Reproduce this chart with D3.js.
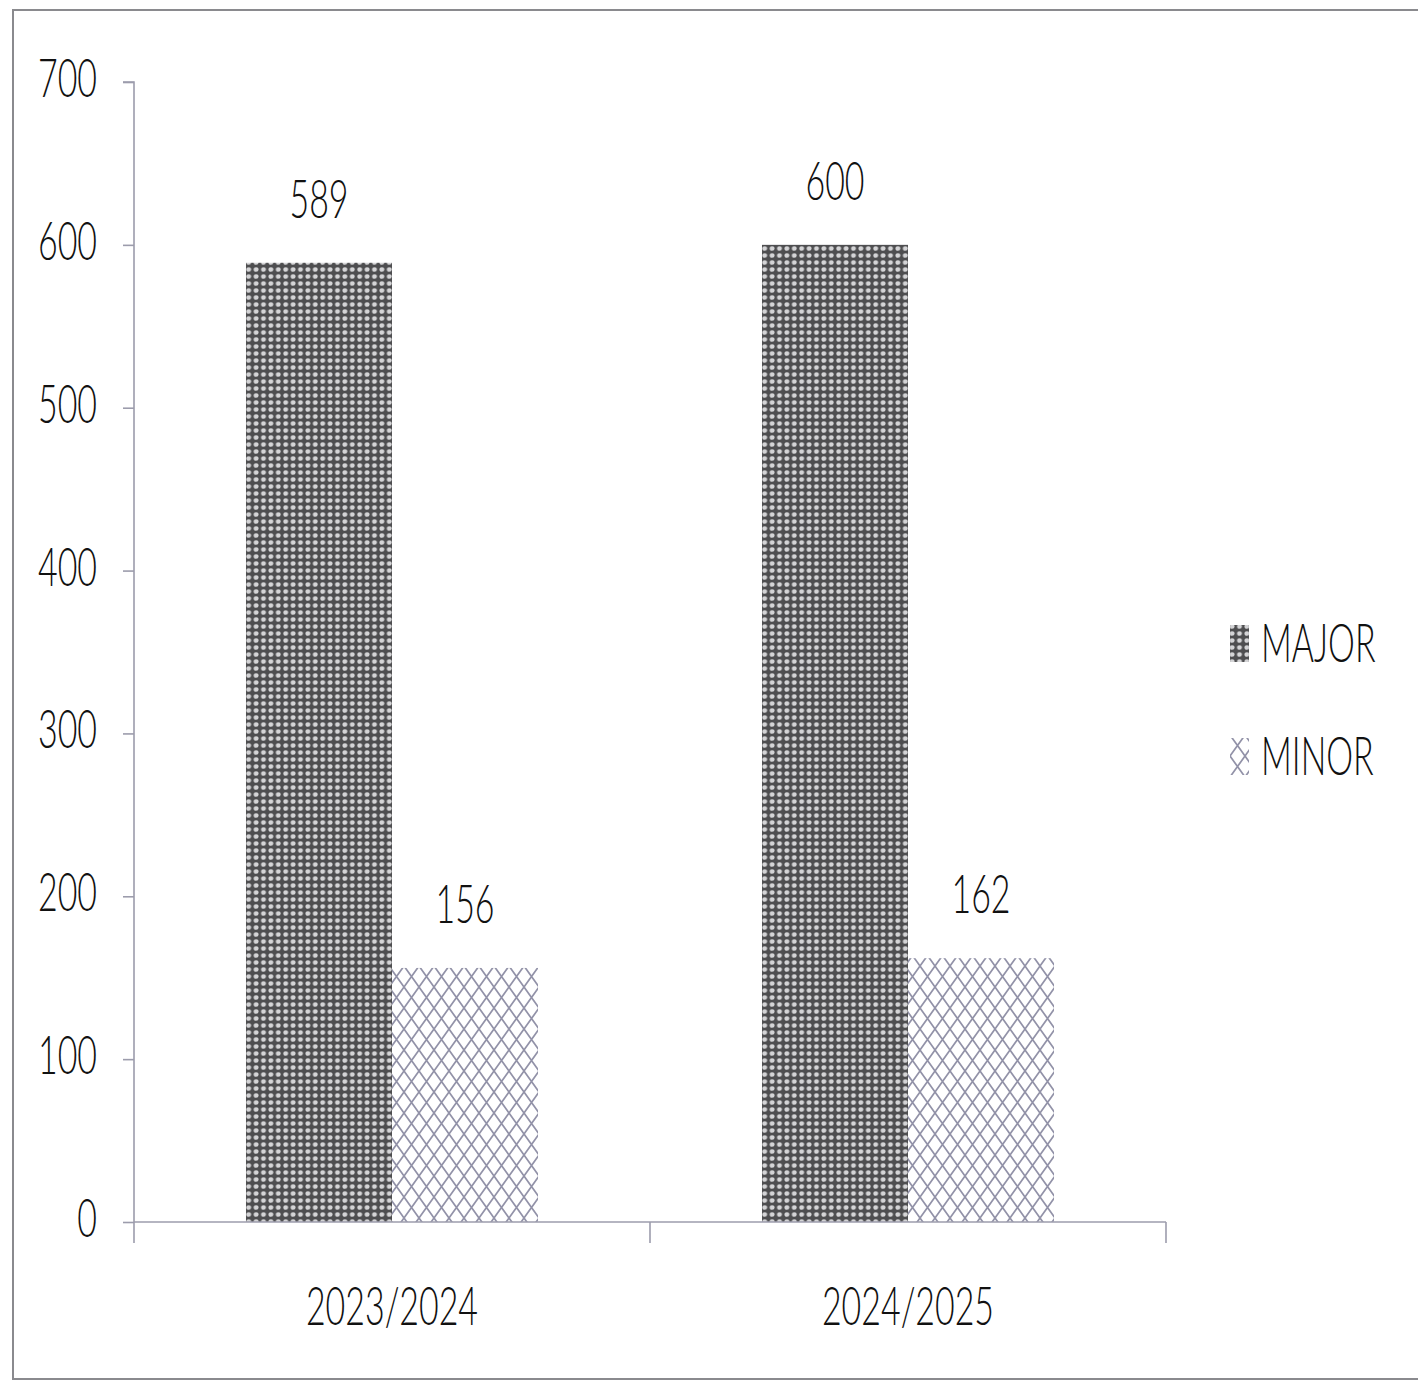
<!DOCTYPE html>
<html>
<head>
<meta charset="utf-8">
<script src="https://cdn.jsdelivr.net/npm/d3@7"></script>
<style>
  html, body { margin: 0; padding: 0; background: #fff; }
  svg { display: block; }
  text { font-family: Lato, "Open Sans", sans-serif; font-weight: 300; fill: #111; }
</style>
</head>
<body>
<svg id="chart" width="1418" height="1380"></svg>
<script>
// Data
const categories = ["2023/2024", "2024/2025"];
const series = ["MAJOR", "MINOR"];
const majorValues = [589, 600];
const minorValues = [156, 162];
const yTicks = [0, 100, 200, 300, 400, 500, 600, 700];

const valuesBySeries = { MAJOR: majorValues, MINOR: minorValues };
const rows = categories.map((c, i) => ({
  category: c,
  values: series.map(s => ({ series: s, value: valuesBySeries[s][i] }))
}));

const W = 1418, H = 1380;
const plot = { left: 134, right: 1166, top: 82, bottom: 1222 };
const SX = 0.64;          // condensed lettering
const FS = 53;

const svg = d3.select("#chart");
const defs = svg.append("defs");

// Dotted dark fill
const pMaj = defs.append("pattern")
  .attr("id", "pat-major").attr("patternUnits", "userSpaceOnUse")
  .attr("width", 7.4).attr("height", 7);
pMaj.append("rect").attr("width", 7.4).attr("height", 7).attr("fill", "#4e4e50");
pMaj.append("ellipse").attr("cx", 3.7).attr("cy", 3.5).attr("rx", 2.4).attr("ry", 2.3).attr("fill", "#d4d4d6");

// Diamond lattice fill
const dw = 15, dh = 21;
const pMin = defs.append("pattern")
  .attr("id", "pat-minor").attr("patternUnits", "userSpaceOnUse")
  .attr("width", dw).attr("height", dh);
pMin.append("rect").attr("width", dw).attr("height", dh).attr("fill", "#ffffff");
pMin.append("path")
  .attr("d",
    `M${-dw},${-dh}L${2 * dw},${2 * dh}` +
    `M${2 * dw},${-dh}L${-dw},${2 * dh}` +
    `M0,${-dh}L${2 * dw},${dh}` +
    `M${-dw},0L${dw},${2 * dh}` +
    `M${-dw},${dh}L${dw},${-dh}` +
    `M${2 * dw},0L0,${2 * dh}`)
  .attr("stroke", "#9292a8").attr("stroke-width", 1.7).attr("fill", "none");

const fills = { MAJOR: "url(#pat-major)", MINOR: "url(#pat-minor)" };

// Outer frame
svg.append("rect")
  .attr("x", 13).attr("y", 10).attr("width", W + 20).attr("height", 1369)
  .attr("fill", "none").attr("stroke", "#8a8a8e").attr("stroke-width", 2);

// Scales
const x0 = d3.scaleBand().domain(categories).range([plot.left, plot.right]).padding(0);
const x1 = d3.scaleBand().domain(series).range([0, x0.bandwidth()])
  .paddingInner(0).paddingOuter(0.767);
const y = d3.scaleLinear().domain([0, 700]).range([plot.bottom, plot.top]);

function label(g, x, yy, txt, anchor) {
  return g.append("text")
    .attr("transform", `translate(${x},${yy}) scale(${SX},1)`)
    .attr("text-anchor", anchor || "middle")
    .attr("font-size", FS)
    .text(txt);
}

// Y axis
const yAxis = svg.append("g").attr("transform", `translate(${plot.left},0)`)
  .call(d3.axisLeft(y).tickValues(yTicks).tickSize(11).tickFormat(""));
yAxis.selectAll("path, line").attr("stroke", "#9c9cac").attr("stroke-width", 1.6);
yAxis.select(".domain").attr("d", `M-11,${plot.top}H0V${plot.bottom}`);
const yLab = svg.append("g");
yTicks.forEach(t => label(yLab, 97, y(t) + 15, String(t), "end"));

// Bars
const groups = svg.append("g").selectAll("g").data(rows).join("g")
  .attr("transform", d => `translate(${x0(d.category)},0)`);
groups.selectAll("rect").data(d => d.values).join("rect")
  .attr("x", d => x1(d.series))
  .attr("y", d => y(d.value))
  .attr("width", x1.bandwidth())
  .attr("height", d => y(0) - y(d.value))
  .attr("fill", d => fills[d.series]);

// Value labels
groups.each(function(d) {
  const g = d3.select(this);
  d.values.forEach(v => label(g, x1(v.series) + x1.bandwidth() / 2, y(v.value) - 45, String(v.value)));
});

// X axis
const xAxis = svg.append("g").attr("transform", `translate(0,${plot.bottom})`)
  .call(d3.axisBottom(x0).tickSize(0).tickFormat(""));
xAxis.select(".domain").attr("stroke", "#9c9cac").attr("stroke-width", 1.6)
  .attr("d", `M${plot.left},0H${plot.right}`);
const bounds = [plot.left, x0(categories[1]), plot.right];
xAxis.selectAll("line.bound").data(bounds).join("line").attr("class", "bound")
  .attr("x1", d => d).attr("x2", d => d).attr("y1", 0).attr("y2", 21)
  .attr("stroke", "#9c9cac").attr("stroke-width", 1.6);
const xLab = svg.append("g");
categories.forEach(c => label(xLab, x0(c) + x0.bandwidth() / 2, 1325, c));

// Legend
const legend = svg.append("g");
const legendRows = [{ s: "MAJOR", y: 625 }, { s: "MINOR", y: 738 }];
legendRows.forEach(r => {
  legend.append("rect").attr("x", 1230).attr("y", r.y).attr("width", 19).attr("height", 37)
    .attr("fill", fills[r.s]);
  label(legend, 1261, r.y + 37, r.s, "start");
});
</script>
</body>
</html>
